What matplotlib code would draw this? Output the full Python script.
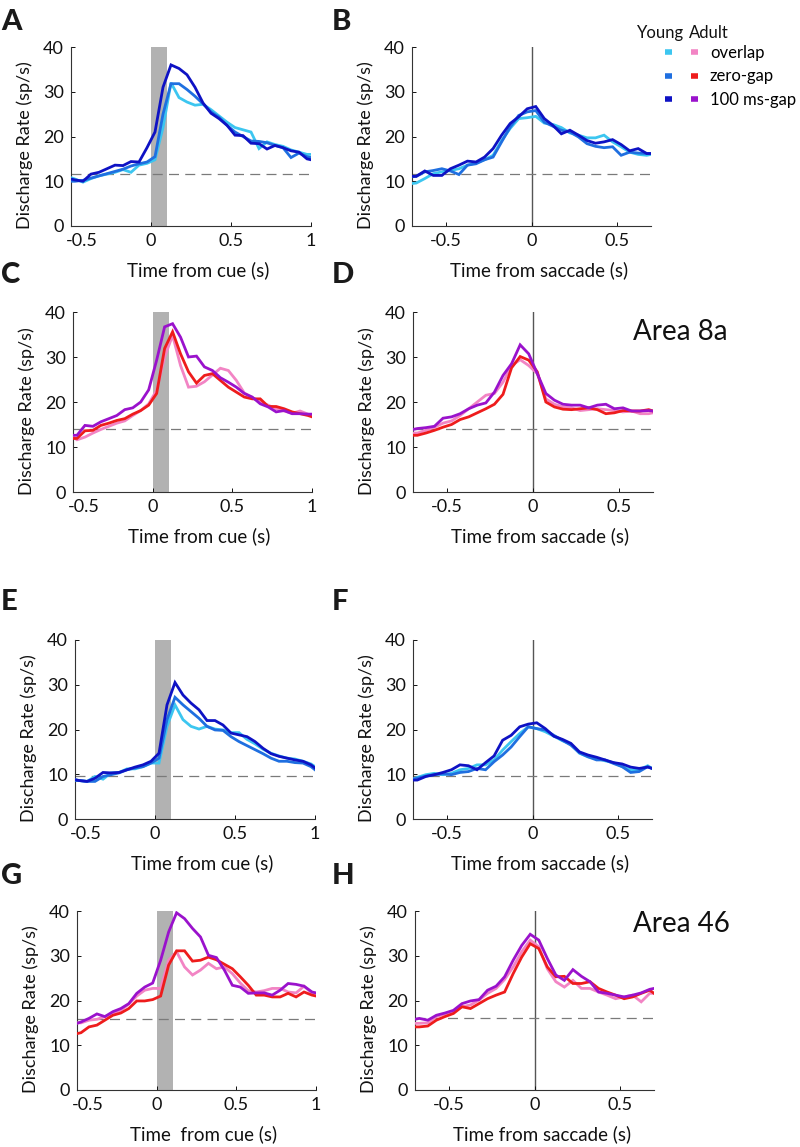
import numpy as np
import matplotlib
matplotlib.use("Agg")
from matplotlib import pyplot as plt
from matplotlib.legend_handler import HandlerTuple
from matplotlib.lines import Line2D
from matplotlib.transforms import ScaledTranslation

plt.rcParams['font.family'] = ['Lato', 'DejaVu Sans']
plt.rcParams['axes.unicode_minus'] = False

# time bins (s)
t_cue = [-0.5, -0.475, -0.425, -0.375, -0.325, -0.275, -0.225, -0.175, -0.125, -0.075,
         -0.025, 0.025, 0.075, 0.125, 0.175, 0.225, 0.275, 0.325, 0.375, 0.425,
         0.475, 0.525, 0.575, 0.625, 0.675, 0.725, 0.775, 0.825, 0.875, 0.925, 0.975, 1.0]
t_sac = [-0.7, -0.675, -0.625, -0.575, -0.525, -0.475, -0.425, -0.375, -0.325, -0.275,
         -0.225, -0.175, -0.125, -0.075, -0.025, 0.025, 0.075, 0.125, 0.175, 0.225,
         0.275, 0.325, 0.375, 0.425, 0.475, 0.525, 0.575, 0.625, 0.675, 0.7]

conditions = ['overlap', 'zero-gap', '100 ms-gap']
young_colors = ['#3cc6f0', '#1f6fe0', '#0e12c4']
adult_colors = ['#f284c4', '#ee1c1c', '#9a12cc']

# Area 8a, young, cue aligned
a_overlap = [10.8, 10.5, 9.8, 10.6, 11.2, 11.6, 12.0, 12.6, 12.0, 13.6, 14.0, 14.8, 22.0, 32.0, 28.7, 27.7,
             27.0, 27.2, 26.0, 24.6, 23.2, 22.0, 21.5, 21.0, 17.3, 18.8, 18.2, 17.8, 17.0, 16.5, 16.0, 16.0]
a_zero = [10.0, 10.0, 10.2, 10.7, 11.2, 11.7, 12.2, 12.7, 13.4, 13.9, 14.3, 15.5, 25.0, 31.8, 31.8, 30.5,
          29.0, 27.3, 25.5, 24.3, 22.5, 21.0, 20.0, 19.0, 18.9, 18.6, 18.0, 17.5, 15.3, 16.3, 15.5, 15.3]
a_gap = [10.5, 10.3, 10.0, 11.6, 12.0, 12.8, 13.6, 13.5, 14.4, 14.3, 17.5, 21.0, 31.0, 36.0, 35.2, 33.8,
         31.0, 27.5, 25.2, 24.0, 22.5, 20.3, 20.2, 18.5, 18.4, 17.2, 18.0, 17.5, 16.8, 16.5, 15.0, 14.8]

# Area 8a, young, saccade aligned
b_overlap = [9.5, 9.6, 10.6, 11.7, 12.1, 12.4, 12.8, 13.6, 14.1, 14.8, 15.8, 19.1, 21.8, 24.0, 24.2,
             24.5, 23.0, 22.7, 22.0, 20.8, 20.3, 19.7, 19.7, 20.3, 18.8, 17.7, 16.5, 16.0, 15.8, 16.0]
b_zero = [11.0, 11.1, 12.1, 12.4, 12.8, 12.3, 11.5, 13.6, 13.9, 14.8, 15.4, 18.8, 22.1, 24.7, 25.5,
          25.8, 23.2, 22.3, 21.4, 21.0, 19.9, 18.4, 17.8, 17.5, 17.7, 15.8, 16.5, 16.3, 16.2, 16.2]
b_gap = [11.1, 11.1, 12.3, 11.3, 11.3, 12.8, 13.6, 14.5, 14.3, 15.4, 17.3, 20.3, 22.9, 24.4, 26.2,
         26.7, 24.0, 22.5, 20.6, 21.4, 20.3, 19.1, 18.5, 18.8, 19.3, 18.2, 16.8, 17.3, 16.2, 16.2]

# Area 8a, adult, cue aligned
c_overlap = [12.2, 11.6, 12.2, 13.1, 13.9, 14.6, 15.3, 15.8, 17.0, 18.1, 19.6, 22.6, 30.0, 34.8, 28.1, 23.3,
             23.5, 24.5, 26.0, 27.5, 27.0, 24.8, 22.0, 21.0, 20.0, 19.3, 18.5, 18.0, 17.5, 18.0, 17.3, 17.0]
c_zero = [11.9, 11.9, 13.6, 13.7, 14.8, 15.3, 15.9, 16.3, 17.3, 18.1, 19.3, 21.9, 31.9, 35.6, 30.7, 26.7,
          24.2, 25.9, 26.3, 24.8, 23.3, 22.2, 21.1, 20.7, 20.7, 19.0, 19.0, 18.5, 17.8, 17.4, 17.0, 16.7]
c_gap = [12.6, 12.6, 14.8, 14.6, 15.6, 16.3, 17.0, 18.3, 18.7, 20.0, 22.7, 29.3, 36.7, 37.4, 34.4, 30.0,
         30.2, 27.8, 27.0, 25.4, 24.4, 23.3, 21.9, 21.1, 19.6, 18.9, 17.8, 18.1, 17.4, 17.4, 17.3, 17.3]

# Area 8a, adult, saccade aligned
d_overlap = [13.1, 13.1, 13.7, 14.4, 15.3, 15.8, 17.0, 18.5, 20.0, 21.5, 21.9, 24.4, 28.1, 29.4, 28.1,
             26.3, 20.7, 19.5, 18.9, 18.7, 18.1, 18.3, 18.5, 18.3, 18.1, 17.8, 18.0, 17.4, 17.4, 17.6]
d_zero = [12.6, 12.6, 13.1, 13.7, 14.4, 15.0, 16.1, 16.7, 17.6, 18.5, 19.5, 21.7, 27.6, 30.1, 29.3,
          26.7, 20.0, 18.9, 18.4, 18.3, 18.5, 18.7, 18.3, 17.4, 17.6, 18.1, 18.0, 18.0, 18.3, 18.0]
d_gap = [13.9, 14.1, 14.3, 14.6, 16.4, 16.7, 17.4, 18.5, 19.3, 19.8, 22.2, 25.9, 28.5, 32.7, 30.7,
         26.3, 21.9, 20.4, 19.5, 19.3, 19.3, 18.7, 19.3, 19.5, 18.5, 18.7, 18.0, 18.0, 18.1, 18.0]

# Area 46, young, cue aligned
e_overlap = [8.8, 8.6, 8.4, 9.5, 8.9, 10.3, 10.4, 11.2, 11.2, 11.7, 12.5, 12.5, 20.7, 25.5, 22.2, 20.7,
             20.1, 20.7, 20.1, 19.9, 19.3, 19.3, 17.8, 16.8, 15.6, 14.7, 14.1, 13.6, 13.4, 12.9, 12.3, 11.7]
e_zero = [8.6, 8.6, 8.4, 8.4, 9.5, 9.9, 10.3, 11.0, 11.4, 11.7, 12.5, 13.6, 22.2, 27.2, 25.5, 24.0,
          22.5, 20.7, 19.9, 19.8, 18.4, 17.3, 16.4, 15.5, 14.6, 13.6, 12.9, 12.9, 12.6, 12.5, 11.7, 11.0]
e_gap = [8.8, 8.6, 8.4, 9.1, 10.4, 10.3, 10.4, 11.0, 11.6, 12.1, 12.9, 14.7, 25.5, 30.5, 27.7, 25.9,
         24.4, 22.0, 22.0, 21.0, 19.2, 18.8, 18.4, 17.3, 15.8, 14.6, 14.0, 13.6, 13.2, 12.9, 12.1, 11.4]

# Area 46, young, saccade aligned
f_overlap = [8.9, 9.3, 9.9, 10.2, 9.9, 10.2, 11.0, 11.3, 12.1, 12.1, 13.2, 15.4, 17.3, 19.1, 20.6,
             20.2, 19.5, 18.5, 17.5, 16.7, 14.7, 13.9, 13.6, 13.0, 12.6, 11.7, 11.0, 11.0, 11.9, 11.3]
f_zero = [8.9, 9.1, 9.6, 9.9, 10.1, 9.9, 10.4, 10.6, 11.3, 11.0, 12.8, 14.3, 16.1, 18.4, 20.6,
          20.2, 19.9, 18.7, 17.6, 16.5, 14.8, 13.9, 13.2, 13.2, 12.4, 11.7, 10.4, 10.6, 11.7, 11.3]
f_gap = [8.7, 8.7, 9.5, 9.9, 10.4, 11.0, 12.1, 11.9, 11.0, 12.6, 14.1, 17.6, 18.7, 20.6, 21.2,
         21.5, 20.2, 18.5, 17.8, 16.9, 15.0, 14.3, 13.8, 13.2, 12.6, 12.3, 11.6, 11.3, 11.6, 11.3]

# Area 46, adult, cue aligned
g_overlap = [15.0, 15.0, 15.6, 15.8, 16.4, 17.1, 17.8, 19.2, 21.0, 22.3, 22.7, 22.7, 29.0, 30.9, 27.5, 25.7,
             26.8, 28.3, 27.1, 27.5, 26.0, 23.9, 22.2, 21.9, 22.2, 22.7, 22.7, 21.9, 21.7, 23.2, 21.6, 21.6]
g_zero = [12.6, 12.8, 14.1, 14.5, 15.6, 16.7, 17.2, 18.2, 19.9, 19.9, 20.2, 21.0, 27.9, 31.1, 31.1, 28.8,
          29.0, 29.7, 29.1, 28.1, 27.1, 25.3, 23.4, 21.2, 21.2, 20.8, 20.8, 21.6, 20.8, 21.9, 21.2, 21.0]
g_gap = [14.9, 15.2, 16.0, 17.0, 16.4, 17.5, 18.2, 19.3, 21.6, 23.0, 23.9, 29.0, 35.3, 39.6, 38.3, 36.1,
         34.2, 30.1, 29.6, 26.8, 23.4, 23.0, 21.6, 21.7, 21.7, 21.2, 22.3, 23.8, 23.6, 23.2, 21.9, 21.7]

# Area 46, adult, saccade aligned
h_overlap = [14.9, 14.9, 15.0, 16.4, 17.0, 17.5, 18.6, 19.0, 20.1, 21.6, 22.7, 24.7, 27.5, 30.9, 33.5,
             32.0, 27.1, 24.2, 23.0, 24.5, 22.7, 22.7, 21.9, 21.2, 20.4, 20.8, 21.2, 19.7, 21.6, 21.6]
h_zero = [14.1, 14.1, 14.3, 15.6, 16.4, 17.1, 18.6, 18.2, 19.3, 20.4, 21.2, 21.9, 26.0, 29.7, 32.7,
          31.6, 27.5, 25.3, 25.4, 23.8, 23.8, 24.2, 22.7, 21.9, 21.2, 20.4, 20.8, 21.6, 22.3, 21.6]
h_gap = [15.8, 16.0, 15.6, 16.7, 17.2, 17.8, 19.3, 19.9, 20.2, 22.3, 23.2, 25.3, 29.0, 32.3, 34.8,
         33.5, 29.4, 25.7, 24.5, 26.9, 25.4, 24.2, 21.9, 21.6, 21.2, 20.8, 21.2, 21.7, 22.5, 22.7]

# baseline firing rate per panel (dashed line)
baselines = {'A': 11.7, 'B': 11.7, 'C': 14.0, 'D': 14.1, 'E': 9.5, 'F': 9.6, 'G': 15.8, 'H': 16.1}

W, H = 800, 1147


def rect(l, r, t, b):
    return [l / W, 1 - b / H, (r - l) / W, (b - t) / H]


def plotPanel(rc, letter, series, colors, cue=True, xlabel=None):
    ax = fig.add_axes(rc)
    if cue:
        t = t_cue
        ax.axvspan(0, 0.1, color='#b2b2b2', lw=0, zorder=0)
        ax.set_xlim(-0.5, 1)
        ax.set_xticks([-0.5, 0, 0.5, 1])
        ax.set_xticklabels(['-0.5', '0', '0.5', '1'])
        if xlabel is None:
            xlabel = 'Time from cue (s)'
    else:
        t = t_sac
        ax.axvline(0, color='#555555', lw=1.0, zorder=1)
        ax.set_xlim(-0.7, 0.7)
        ax.set_xticks([-0.5, 0, 0.5])
        ax.set_xticklabels(['-0.5', '0', '0.5'])
        if xlabel is None:
            xlabel = 'Time from saccade (s)'
    ax.axhline(baselines[letter], color='#7a7a7a', lw=0.9, ls=(0, (8, 5)), zorder=1)
    for y, c in zip(series, colors):
        ax.plot(t, y, color=c, lw=2.0, zorder=3, solid_joinstyle='miter')
    ax.set_ylim(0, 40)
    ax.set_yticks([0, 10, 20, 30, 40])
    for s in ['top', 'right']:
        ax.spines[s].set_visible(False)
    for s in ['left', 'bottom']:
        ax.spines[s].set_color('#333333')
        ax.spines[s].set_linewidth(0.8)
    ax.tick_params(direction='in', length=3, width=0.7, labelsize=13, pad=5, colors='#111111')
    if cue:
        # the first tick label sits a bit to the right of its tick, clear of the y labels
        lab = ax.get_xticklabels()[0]
        lab.set_transform(lab.get_transform() + ScaledTranslation(0.11, 0, fig.dpi_scale_trans))
    ax.set_ylabel('Discharge Rate (sp/s)', fontsize=13, color='#111111')
    ax.yaxis.set_label_coords(-0.16, 0.45)
    ax.set_xlabel(xlabel, fontsize=13.5, color='#111111')
    ax.xaxis.set_label_coords(0.53, -0.245)
    ax.xaxis.label.set_va('center')
    return ax


fig = plt.figure(figsize=(8, 11.47), dpi=100)

plotPanel(rect(71, 311, 47, 226), 'A', [a_overlap, a_zero, a_gap], young_colors)
plotPanel(rect(412, 651, 47, 226), 'B', [b_overlap, b_zero, b_gap], young_colors, cue=False)
plotPanel(rect(73, 312, 312, 492), 'C', [c_overlap, c_zero, c_gap], adult_colors)
plotPanel(rect(413, 653, 312, 492), 'D', [d_overlap, d_zero, d_gap], adult_colors, cue=False)
plotPanel(rect(75, 315, 640, 819), 'E', [e_overlap, e_zero, e_gap], young_colors)
plotPanel(rect(413, 652, 640, 819), 'F', [f_overlap, f_zero, f_gap], young_colors, cue=False)
plotPanel(rect(77, 316, 911, 1090), 'G', [g_overlap, g_zero, g_gap], adult_colors, xlabel='Time  from cue (s)')
plotPanel(rect(415, 654, 911, 1090), 'H', [h_overlap, h_zero, h_gap], adult_colors, cue=False)

# panel letters
letters = [('A', 1, 22), ('B', 332, 22), ('C', 1, 275), ('D', 332, 275),
           ('E', 1, 602), ('F', 332, 602), ('G', 1, 876), ('H', 332, 876)]
for s, x, y in letters:
    fig.text(x / W, 1 - y / H, s, fontsize=21, fontweight='black', va='center', ha='left', color='#1a1a1a')

fig.text(633 / W, 1 - 332 / H, 'Area 8a', fontsize=20, va='center', ha='left', color='#111111')
fig.text(633 / W, 1 - 924 / H, 'Area 46', fontsize=20, va='center', ha='left', color='#111111')

# legend
fig.text(637 / W, 1 - 33 / H, 'Young', fontsize=12, va='center', ha='left', color='#111111')
fig.text(689 / W, 1 - 33 / H, 'Adult', fontsize=12, va='center', ha='left', color='#111111')
handles = []
for yc, ac in zip(young_colors, adult_colors):
    handles.append((Line2D([], [], color=yc, lw=4, solid_capstyle='butt'),
                    Line2D([], [], color=ac, lw=4, solid_capstyle='butt')))
fig.legend(handles, conditions, handler_map={tuple: HandlerTuple(ndivide=None, pad=1.15)},
           loc='upper left', bbox_to_anchor=(665 / W, 1 - 45 / H), frameon=False, fontsize=12,
           handlelength=2.0, handletextpad=0.7, labelspacing=0.45, borderpad=0, borderaxespad=0)

fig.savefig('out.png', dpi=100)
